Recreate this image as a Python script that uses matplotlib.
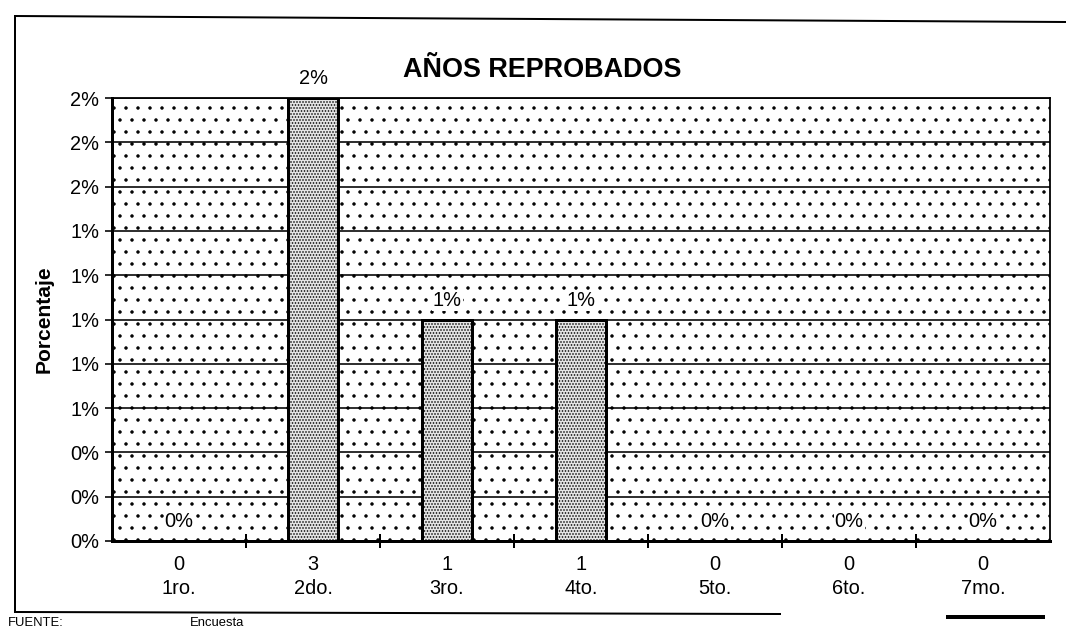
import matplotlib
matplotlib.use("Agg")
import matplotlib.pyplot as plt
from matplotlib.patches import Rectangle
from matplotlib.lines import Line2D
import numpy as np

# ---- data ----
categories = ["1ro.", "2do.", "3ro.", "4to.", "5to.", "6to.", "7mo."]
counts = [0, 3, 1, 1, 0, 0, 0]
percent_values = [0.0, 2.0, 1.0, 1.0, 0.0, 0.0, 0.0]
percent_labels = ["0%", "2%", "1%", "1%", "0%", "0%", "0%"]
ytick_values = [0.0, 0.2, 0.4, 0.6, 0.8, 1.0, 1.2, 1.4, 1.6, 1.8, 2.0]
ytick_labels = ["0%", "0%", "0%", "1%", "1%", "1%", "1%", "1%", "2%", "2%", "2%"]

plt.rcParams["font.family"] = ["Liberation Sans", "DejaVu Sans"]
plt.rcParams["hatch.linewidth"] = 1.0
plt.rcParams["hatch.color"] = "black"

W, H, DPI = 1066, 631, 72
fig = plt.figure(figsize=(W / DPI, H / DPI), dpi=DPI)
fig.patch.set_facecolor("white")

def fx(px):
    return px / W

def fy(py):
    return 1 - py / H

ax_l, ax_r, ax_t, ax_b = 112, 1050, 98, 541
ax = fig.add_axes([fx(ax_l), fy(ax_b), fx(ax_r - ax_l), (ax_b - ax_t) / H])

# dotted background of the plot area
ax.add_patch(Rectangle((0, 0), 1, 1, transform=ax.transAxes, facecolor="white",
                       edgecolor="black", linewidth=0, hatch=".", zorder=0))

x = np.arange(len(categories))
bars = ax.bar(x, percent_values, width=0.38, facecolor="#e4e4e4", edgecolor="black",
              linewidth=3, hatch="....", zorder=3)

ax.set_xlim(-0.5, len(categories) - 0.5)
ax.set_ylim(0, 2.0)

ax.set_yticks(ytick_values)
ax.set_yticklabels(ytick_labels, fontsize=20)
ax.yaxis.grid(True, color="black", linewidth=1.6)
ax.set_axisbelow(True)
ax.tick_params(axis="y", direction="out", length=7, width=1.6, pad=6, colors="black")

ax.set_xticks(x)
ax.set_xticklabels([f"{c}\n{cat}" for c, cat in zip(counts, categories)],
                   fontsize=20, linespacing=1.3)
ax.tick_params(axis="x", which="major", length=0, pad=14)
ax.set_xticks(np.arange(0.5, len(categories) - 0.5, 1.0), minor=True)
ax.tick_params(axis="x", which="minor", direction="inout", length=14, width=2)

for side, lw in [("left", 3), ("bottom", 3), ("right", 1.8), ("top", 1.8)]:
    ax.spines[side].set_linewidth(lw)
    ax.spines[side].set_color("black")

ax.set_ylabel("Porcentaje", fontsize=21, fontweight="bold")
ax.yaxis.set_label_coords(-0.062, 0.5)

for rect, lab in zip(bars, percent_labels):
    ax.annotate(lab, (rect.get_x() + rect.get_width() / 2, rect.get_height()),
                xytext=(0, 10), textcoords="offset points", ha="center", va="bottom",
                fontsize=20, zorder=5,
                bbox=dict(facecolor="white", edgecolor="none", pad=1))

fig.text(fx(542), fy(70), "AÑOS REPROBADOS", fontsize=27, fontweight="bold",
         ha="center", va="center")

# outer frame of the scanned chart
fig.add_artist(Line2D([fx(15), fx(15)], [fy(16), fy(612)], color="black", lw=2))
fig.add_artist(Line2D([fx(15), fx(1066)], [fy(16), fy(22)], color="black", lw=2))
fig.add_artist(Line2D([fx(15), fx(780)], [fy(612), fy(614)], color="black", lw=2))
fig.add_artist(Line2D([fx(948), fx(1043)], [fy(617), fy(617)], color="black", lw=4))

fig.text(fx(8), fy(617), "FUENTE:", fontsize=13, ha="left", va="top")
fig.text(fx(190), fy(617), "Encuesta", fontsize=13, ha="left", va="top")

fig.savefig("out.png", dpi=DPI, facecolor="white")
